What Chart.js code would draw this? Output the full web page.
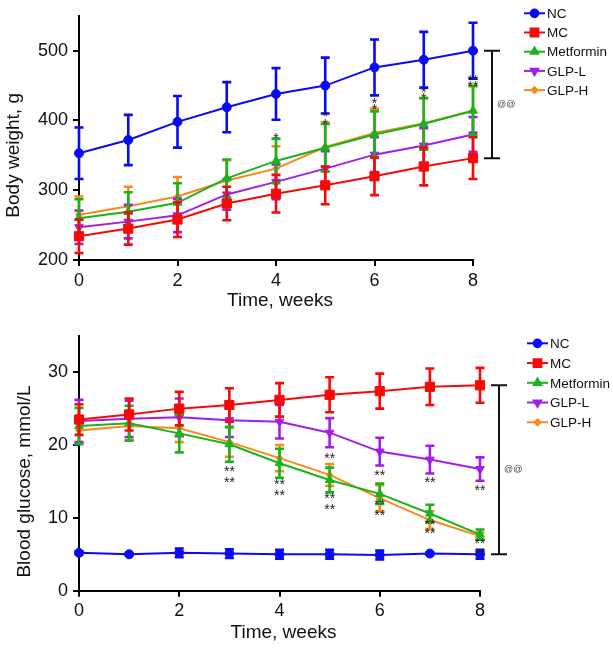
<!DOCTYPE html>
<html lang="en">
<head>
  <meta charset="UTF-8">
  <title>Body weight and blood glucose</title>
  <script src="https://cdn.jsdelivr.net/npm/chart.js"></script>
  <style>
    body { margin: 0; background: #fff; }
    .panel { position: absolute; left: 0; }
  </style>
</head>
<body>
  <div class="panel" style="top:0"><canvas id="weightChart" width="613" height="320"></canvas></div>
  <div class="panel" style="top:320px"><canvas id="glucoseChart" width="613" height="328"></canvas></div>

  <script>
    const weeks = [0, 1, 2, 3, 4, 5, 6, 7, 8];
    const groups = ['NC', 'MC', 'Metformin', 'GLP-L', 'GLP-H'];
    const colors = ['#0a0af5', '#f50a0a', '#19b419', '#a21ee8', '#f8891c'];
    const xTicks = [0, 2, 4, 6, 8];

    // body weight, g (mean and SD)
    const bwNC = [353, 372, 398, 419, 438, 450, 476, 487, 500];
    const bwNCsd = [37, 36, 37, 36, 37, 40, 40, 40, 40];
    const bwMC = [234, 245, 258, 281, 295, 307, 320, 334, 346];
    const bwMCsd = [24, 23, 25, 24, 27, 27, 27, 27, 30];
    const bwMet = [260, 269, 282, 317, 342, 361, 380, 395, 414];
    const bwMetSd = [27, 28, 28, 27, 32, 34, 33, 37, 35];
    const bwGlpL = [247, 255, 264, 294, 312, 331, 351, 364, 380];
    const bwGlpLsd = [24, 24, 24, 22, 25, 25, 25, 25, 25];
    const bwGlpH = [265, 277, 291, 314, 331, 362, 382, 396, 414];
    const bwGlpHsd = [26, 28, 28, 29, 32, 35, 35, 36, 36];
    const bwTicks = [200, 300, 400, 500];
    const bwStars = [[4, 379, '*'], [5, 410, '*'], [5, 399, '*'], [6, 430, '*'], [6, 421, '*'],
                     [7, 445, '*'], [7, 437, '*'], [8, 462, '**'], [8, 454, '**']];

    // blood glucose, mmol/L (mean and SD)
    const bgNC = [5.2, 5.0, 5.2, 5.1, 5.0, 5.0, 4.9, 5.1, 5.0];
    const bgNCsd = [0.2, 0.1, 0.6, 0.6, 0.6, 0.6, 0.6, 0.1, 0.6];
    const bgMC = [23.5, 24.2, 25.0, 25.5, 26.2, 26.9, 27.4, 28.0, 28.2];
    const bgMCsd = [2.1, 2.2, 2.3, 2.3, 2.3, 2.4, 2.4, 2.5, 2.4];
    const bgMet = [22.6, 23.0, 21.6, 20.1, 17.5, 15.2, 13.3, 10.6, 7.7];
    const bgMetSd = [2.5, 2.4, 2.6, 2.4, 2.0, 1.7, 1.4, 1.2, 0.7];
    const bgGlpL = [23.3, 23.6, 23.8, 23.4, 23.2, 21.7, 19.1, 18.0, 16.7];
    const bgGlpLsd = [2.9, 2.5, 2.6, 2.3, 2.3, 2.0, 1.9, 1.9, 1.6];
    const bgGlpH = [22.0, 22.6, 22.3, 20.4, 18.2, 15.9, 12.7, 9.7, 7.5];
    const bgGlpHsd = [1.8, 1.9, 1.9, 2.0, 1.8, 1.5, 1.8, 1.2, 0.5];
    const bgTicks = [0, 10, 20, 30];
    const bgStars = [[3, 16.8, '**'], [3, 15.4, '**'], [4, 15.1, '**'], [4, 13.6, '**'],
                     [5, 18.7, '**'], [5, 13.1, '**'], [5, 11.6, '**'],
                     [6, 16.3, '**'], [6, 12.3, '**'], [6, 10.8, '**'],
                     [7, 15.4, '**'], [7, 9.6, '**'], [7, 8.3, '**'],
                     [8, 14.2, '**'], [8, 7.0, '**'], [8, 5.5, '**']];

    const FONT = '"Liberation Sans", Arial, Helvetica, sans-serif';
    const markers = [
      { pointStyle: 'circle', radius: 4.5, rotation: 0 },
      { pointStyle: 'rect', radius: 6.5, rotation: 0 },
      { pointStyle: 'triangle', radius: 5, rotation: 0 },
      { pointStyle: 'triangle', radius: 5, rotation: 180 },
      { pointStyle: 'rectRot', radius: 3.5, rotation: 0 }
    ];

    function makeDataset(i, values) {
      return {
        label: groups[i],
        data: weeks.map((w, k) => ({ x: w, y: values[k] })),
        borderColor: colors[i],
        backgroundColor: colors[i],
        borderWidth: 2,
        pointStyle: markers[i].pointStyle,
        pointRadius: markers[i].radius,
        pointRotation: markers[i].rotation,
        pointBorderWidth: 1,
        tension: 0,
        clip: false
      };
    }

    // error bars, stars, bracket, legend and axis titles
    const extras = {
      id: 'extras',
      beforeDatasetDraw(chart, args, opts) {
        const sd = opts.sd[args.index];
        const ds = chart.data.datasets[args.index];
        const xs = chart.scales.x, ys = chart.scales.y;
        const ctx = chart.ctx;
        ctx.save();
        ctx.strokeStyle = ds.borderColor;
        ctx.lineWidth = 2.6;
        ds.data.forEach((p, k) => {
          const x = xs.getPixelForValue(p.x);
          const t = ys.getPixelForValue(p.y + sd[k]);
          const b = ys.getPixelForValue(p.y - sd[k]);
          ctx.beginPath();
          ctx.moveTo(x, t); ctx.lineTo(x, b);
          ctx.moveTo(x - 4.5, t); ctx.lineTo(x + 4.5, t);
          ctx.moveTo(x - 4.5, b); ctx.lineTo(x + 4.5, b);
          ctx.stroke();
        });
        ctx.restore();
      },
      afterDraw(chart, args, opts) {
        const ctx = chart.ctx;
        const xs = chart.scales.x, ys = chart.scales.y;
        const area = chart.chartArea;
        ctx.save();

        // significance stars
        ctx.fillStyle = '#222';
        ctx.font = '14px ' + FONT;
        ctx.textAlign = 'center';
        ctx.textBaseline = 'alphabetic';
        opts.stars.forEach(s => {
          ctx.fillText(s[2], xs.getPixelForValue(s[0]), ys.getPixelForValue(s[1]) + 8);
        });

        // bracket between NC and MC at the last week
        const last = weeks.length - 1;
        const y1 = ys.getPixelForValue(chart.data.datasets[0].data[last].y);
        const y2 = ys.getPixelForValue(chart.data.datasets[1].data[last].y);
        const bx = opts.bracketX;
        ctx.strokeStyle = '#111';
        ctx.lineWidth = 2;
        ctx.beginPath();
        ctx.moveTo(bx, y1); ctx.lineTo(bx, y2);
        ctx.moveTo(bx - 8, y1); ctx.lineTo(bx + 8, y1);
        ctx.moveTo(bx - 8, y2); ctx.lineTo(bx + 8, y2);
        ctx.stroke();
        ctx.fillStyle = '#444';
        ctx.font = '9px ' + FONT;
        ctx.textAlign = 'left';
        ctx.textBaseline = 'middle';
        ctx.fillText('@@', bx + 5, (y1 + y2) / 2);

        // legend
        const lg = opts.legend;
        groups.forEach((g, i) => {
          const y = lg.y + i * lg.step;
          ctx.strokeStyle = colors[i];
          ctx.fillStyle = colors[i];
          ctx.lineWidth = 2;
          ctx.beginPath();
          ctx.moveTo(lg.x, y); ctx.lineTo(lg.x + 21, y);
          ctx.stroke();
          Chart.helpers.drawPoint(ctx, {
            pointStyle: markers[i].pointStyle,
            radius: markers[i].radius * 0.85,
            rotation: markers[i].rotation,
            borderWidth: 1
          }, lg.x + 10.5, y);
          ctx.fillStyle = '#111';
          ctx.font = '13.5px ' + FONT;
          ctx.textAlign = 'left';
          ctx.textBaseline = 'middle';
          ctx.fillText(g, lg.x + 23, y + 1);
        });

        // axis titles
        ctx.fillStyle = '#111';
        ctx.font = '19px ' + FONT;
        ctx.textAlign = 'center';
        ctx.textBaseline = 'middle';
        ctx.fillText('Time, weeks', (area.left + area.right) / 2 + 4, opts.xTitleY);
        const tk = opts.ticks;
        const yc = ys.getPixelForValue((tk[0] + tk[tk.length - 1]) / 2);
        ctx.translate(opts.yTitleX, yc);
        ctx.rotate(-Math.PI / 2);
        ctx.fillText(opts.yTitle, 0, 0);
        ctx.restore();
      }
    };

    function makeChart(id, sets, sds, ticks, yMin, yMax, pad, axisH, extraOpts) {
      return new Chart(document.getElementById(id), {
        type: 'line',
        data: { datasets: sets.map((v, i) => makeDataset(i, v)) },
        options: {
          responsive: false,
          animation: false,
          devicePixelRatio: 1,
          layout: { padding: pad },
          plugins: {
            legend: { display: false },
            tooltip: { enabled: false },
            extras: Object.assign({ sd: sds, ticks: ticks }, extraOpts)
          },
          scales: {
            x: {
              type: 'linear', min: 0, max: 8,
              afterBuildTicks: s => { s.ticks = xTicks.map(v => ({ value: v })); },
              afterFit: s => { s.height = axisH; },
              border: { display: true, color: '#000', width: 2 },
              grid: { drawOnChartArea: false, drawTicks: true, tickLength: 6, color: '#000', lineWidth: 2 },
              ticks: { color: '#111', font: { family: FONT, size: 18 }, padding: 4, maxRotation: 0 }
            },
            y: {
              min: yMin, max: yMax,
              afterBuildTicks: s => { s.ticks = ticks.map(v => ({ value: v })); },
              afterFit: s => { s.width = 79; },
              border: { display: true, color: '#000', width: 2 },
              grid: { drawOnChartArea: false, drawTicks: true, tickLength: 6, color: '#000', lineWidth: 2 },
              ticks: { color: '#111', font: { family: FONT, size: 18 }, padding: 5 }
            }
          }
        },
        plugins: [extras]
      });
    }

    makeChart('weightChart',
      [bwNC, bwMC, bwMet, bwGlpL, bwGlpH],
      [bwNCsd, bwMCsd, bwMetSd, bwGlpLsd, bwGlpHsd],
      bwTicks, 200, 550,
      { left: 0, right: 140, top: 7, bottom: 0 }, 60,
      { stars: bwStars, bracketX: 492, legend: { x: 524, y: 13.3, step: 19.2 },
        xTitleY: 301, yTitleX: 14, yTitle: 'Body weight, g' });

    makeChart('glucoseChart',
      [bgNC, bgMC, bgMet, bgGlpL, bgGlpH],
      [bgNCsd, bgMCsd, bgMetSd, bgGlpLsd, bgGlpHsd],
      bgTicks, 0, 35,
      { left: 0, right: 133, top: 12.7, bottom: 0 }, 57.3,
      { stars: bgStars, bracketX: 499, legend: { x: 527, y: 23.3, step: 19.75 },
        xTitleY: 313, yTitleX: 25, yTitle: 'Blood glucose, mmol/L' });
  </script>
</body>
</html>
